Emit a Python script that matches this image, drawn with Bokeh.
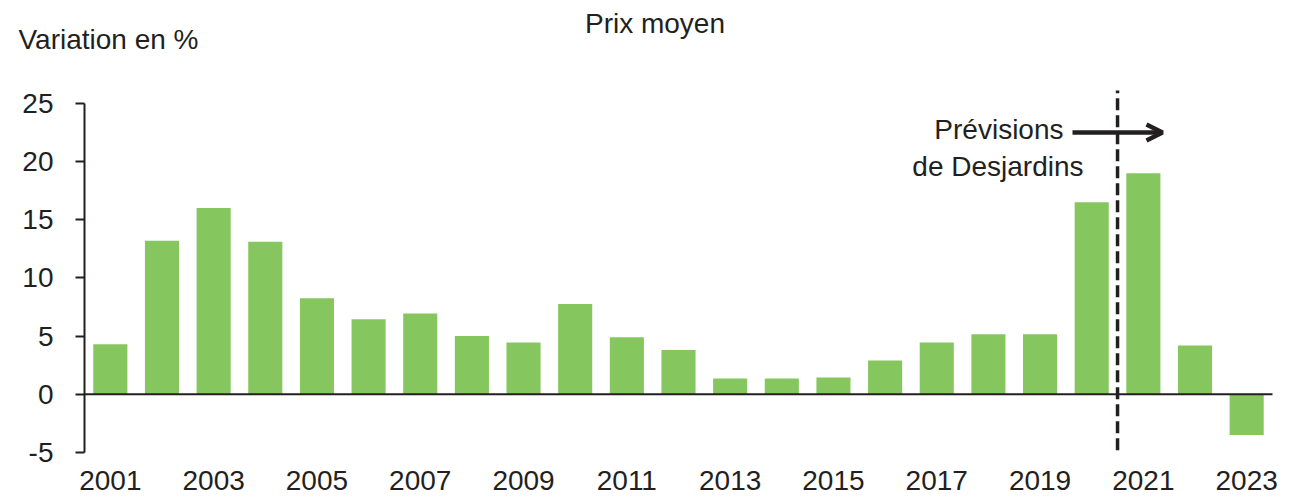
from bokeh.plotting import figure
from bokeh.models import (ColumnDataSource, FixedTicker, Label, Arrow, OpenHead,
                          Range1d, PrintfTickFormatter)
from bokeh.embed import file_html
from bokeh.resources import INLINE

years = list(range(2001, 2024))
variation = [4.3, 13.2, 16.0, 13.1, 8.25, 6.45, 6.95, 5.0, 4.45, 7.75, 4.9, 3.8,
             1.35, 1.35, 1.45, 2.9, 4.45, 5.15, 5.15, 16.5, 19.0, 4.2, -3.5]
year_ticks = years[::2]
y_ticks = [-5, 0, 5, 10, 15, 20, 25]
forecast_start = 2020.5

TXT = "#231f20"
GREEN = "#86C65F"
FONT = "Liberation Sans"
FS = "28px"

# frame covers the whole canvas; axes are pinned with fixed_location
W, H = 1307, 499
ax_left_px, ax_right_px, y0_px, ppu_y = 84, 1272, 452, 11.639
x_lo, x_hi = years[0] - 0.5, years[-1] + 0.5
ppu_x = (ax_right_px - ax_left_px) / (x_hi - x_lo)
y_lo, y_hi = y_ticks[0], y_ticks[-1]

xr = Range1d(x_lo - ax_left_px / ppu_x, x_hi + (W - ax_right_px) / ppu_x)
yr = Range1d(y_lo - (H - y0_px) / ppu_y, y_lo + y0_px / ppu_y)

src = ColumnDataSource(dict(year=years, val=variation))

p = figure(width=W, height=H, output_backend="svg", toolbar_location=None,
           x_range=xr, y_range=yr,
           min_border_left=0, min_border_right=0, min_border_top=0, min_border_bottom=0)
p.outline_line_color = None
p.grid.visible = False

p.vbar(x="year", top="val", bottom=0, width=0.66, source=src, fill_color=GREEN, line_color=None)

# zero line across the plotting area
p.segment(x0=[x_lo], y0=[0], x1=[x_hi], y1=[0], line_color=TXT, line_width=2)
# forecast separator
p.segment(x0=[forecast_start], y0=[-4.8], x1=[forecast_start], y1=[26.1],
          line_color=TXT, line_width=3.5, line_dash="12 5")

# axes
p.xaxis.fixed_location = y_lo
p.xaxis.ticker = FixedTicker(ticks=year_ticks)
p.xaxis.axis_line_color = None
p.xaxis.major_tick_line_color = None
p.xaxis.minor_tick_line_color = None
p.xaxis.major_label_standoff = 12
p.xaxis.major_label_text_font = FONT
p.xaxis.major_label_text_font_size = FS
p.xaxis.major_label_text_color = TXT

p.yaxis.fixed_location = x_lo
p.yaxis.ticker = FixedTicker(ticks=y_ticks)
p.yaxis.formatter = PrintfTickFormatter(format="%d")
p.yaxis.bounds = (y_lo, y_hi)
p.yaxis.axis_line_color = TXT
p.yaxis.axis_line_width = 2
p.yaxis.major_tick_line_color = TXT
p.yaxis.major_tick_line_width = 2
p.yaxis.major_tick_out = 9
p.yaxis.major_tick_in = 0
p.yaxis.minor_tick_line_color = None
p.yaxis.major_label_standoff = 22
p.yaxis.major_label_text_font = FONT
p.yaxis.major_label_text_font_size = FS
p.yaxis.major_label_text_color = TXT

def lab(text, x, y, align):
    p.add_layout(Label(x=x, y=y, text=text, text_align=align, text_baseline="middle",
                       text_font=FONT, text_font_size=FS, text_color=TXT))

lab("Variation en %", 1999.222, 30.48, "left")
lab("Prix moyen", 2011.545, 31.86, "center")
lab("Prévisions", 2019.454, 22.75, "right")
lab("de Desjardins", 2019.841, 19.57, "right")

p.add_layout(Arrow(x_start=2019.628, y_start=22.49, x_end=2021.37, y_end=22.49,
                   line_color=TXT, line_width=4.5,
                   end=OpenHead(size=16, line_color=TXT, line_width=4.5)))

open("out.html", "w").write(file_html(p, INLINE))
